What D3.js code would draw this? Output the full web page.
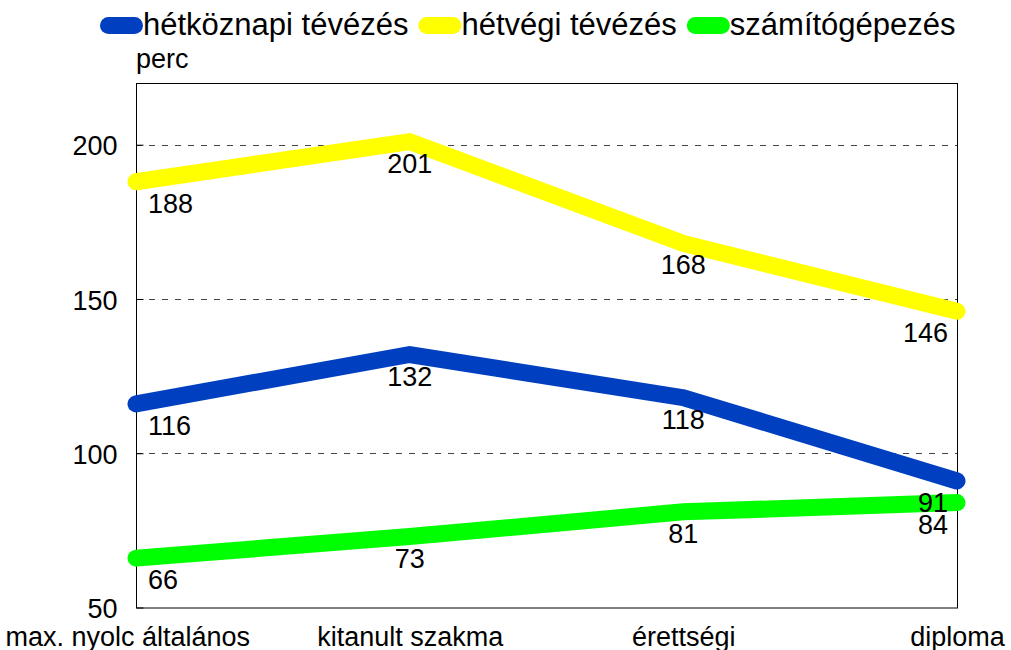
<!DOCTYPE html>
<html>
<head>
<meta charset="utf-8">
<script src="https://cdn.jsdelivr.net/npm/d3@7"></script>
<style>
  body { margin: 0; background: #fff; }
  text { font-family: "Liberation Sans", Arial, sans-serif; fill: #000; }
</style>
</head>
<body>
<div id="chart"></div>
<script>
// values
const categories = ["max. nyolc általános", "kitanult szakma", "érettségi", "diploma"];
const seriesNames = ["hétköznapi tévézés", "hétvégi tévézés", "számítógépezés"];
const weekdayTv = [116, 132, 118, 91];
const weekendTv = [188, 201, 168, 146];
const computer = [66, 73, 81, 84];
const yTicks = [50, 100, 150, 200];

const seriesColors = ["#0040c0", "#ffff00", "#00ff00"];
const series = [weekdayTv, weekendTv, computer];

const width = 1011;
const height = 650;
const plot = { left: 136, right: 957, top: 83, bottom: 607.5 };

const svg = d3.select("#chart").append("svg")
    .attr("width", width)
    .attr("height", height);

const x = d3.scalePoint().domain(categories).range([plot.left, plot.right]).padding(0);
const y = d3.scaleLinear().domain([50, 220]).range([plot.bottom, plot.top]);

// dashed grid
svg.append("g")
    .selectAll("line")
    .data(yTicks.filter(d => d > 50))
    .join("line")
    .attr("x1", plot.left)
    .attr("x2", plot.right)
    .attr("y1", d => Math.round(y(d)) + 0.5)
    .attr("y2", d => Math.round(y(d)) + 0.5)
    .attr("stroke", "#444")
    .attr("stroke-width", 1)
    .attr("stroke-dasharray", "6,7");

// frame
svg.append("rect")
    .attr("x", plot.left + 0.5)
    .attr("y", plot.top + 0.5)
    .attr("width", plot.right - plot.left)
    .attr("height", plot.bottom - plot.top)
    .attr("fill", "none")
    .attr("stroke", "#000");

// y axis, ticks pointing inward
const yAxis = svg.append("g")
    .attr("transform", `translate(${plot.left + 0.5},0)`)
    .call(d3.axisLeft(y).tickValues(yTicks).tickSizeInner(-7).tickSizeOuter(0).tickPadding(19));
yAxis.select(".domain").remove();
yAxis.selectAll("text")
    .attr("dy", "0.38em")
    .style("font-size", "27px")
    .attr("fill", "#000");

// x axis labels
const xAxis = svg.append("g")
    .attr("transform", `translate(0,${plot.bottom})`)
    .call(d3.axisBottom(x).tickSize(0));
xAxis.select(".domain").remove();
xAxis.selectAll("text")
    .attr("y", 38)
    .attr("dy", 0)
    .style("font-size", "27px")
    .attr("fill", "#000");
// a label that runs close to the page edge gets pushed against it
xAxis.selectAll("text").each(function () {
    const bb = this.getBBox();
    const tx = x(this.textContent);
    if (tx + bb.x < 20) d3.select(this).attr("x", 5 - (tx + bb.x));
});

svg.append("text")
    .attr("x", plot.left)
    .attr("y", 68)
    .style("font-size", "27px")
    .text("perc");

// lines
const line = d3.line()
    .x((d, i) => x(categories[i]))
    .y(d => y(d));

svg.append("g")
    .selectAll("path")
    .data(series)
    .join("path")
    .attr("d", d => line(d))
    .attr("fill", "none")
    .attr("stroke", (d, i) => seriesColors[i])
    .attr("stroke-width", 17)
    .attr("stroke-linecap", "round")
    .attr("stroke-linejoin", "miter");

// value labels
const last = categories.length - 1;
series.forEach((vals) => {
    svg.append("g")
        .selectAll("text")
        .data(vals)
        .join("text")
        .attr("x", (d, i) => x(categories[i]) + (i === 0 ? 12 : i === last ? -9 : 0))
        .attr("y", d => y(d) + 31)
        .attr("text-anchor", (d, i) => i === 0 ? "start" : i === last ? "end" : "middle")
        .style("font-size", "27px")
        .text(d => d);
});

// legend
const legend = svg.append("g");
let cursor = 100;
seriesNames.forEach((name, i) => {
    legend.append("line")
        .attr("x1", cursor + 8.5)
        .attr("x2", cursor + 34.5)
        .attr("y1", 25.5)
        .attr("y2", 25.5)
        .attr("stroke", seriesColors[i])
        .attr("stroke-width", 17)
        .attr("stroke-linecap", "round");
    const t = legend.append("text")
        .attr("x", cursor + 43)
        .attr("y", 35)
        .style("font-size", "31px")
        .text(name);
    cursor += 43 + t.node().getComputedTextLength() + 10;
});
</script>
</body>
</html>
